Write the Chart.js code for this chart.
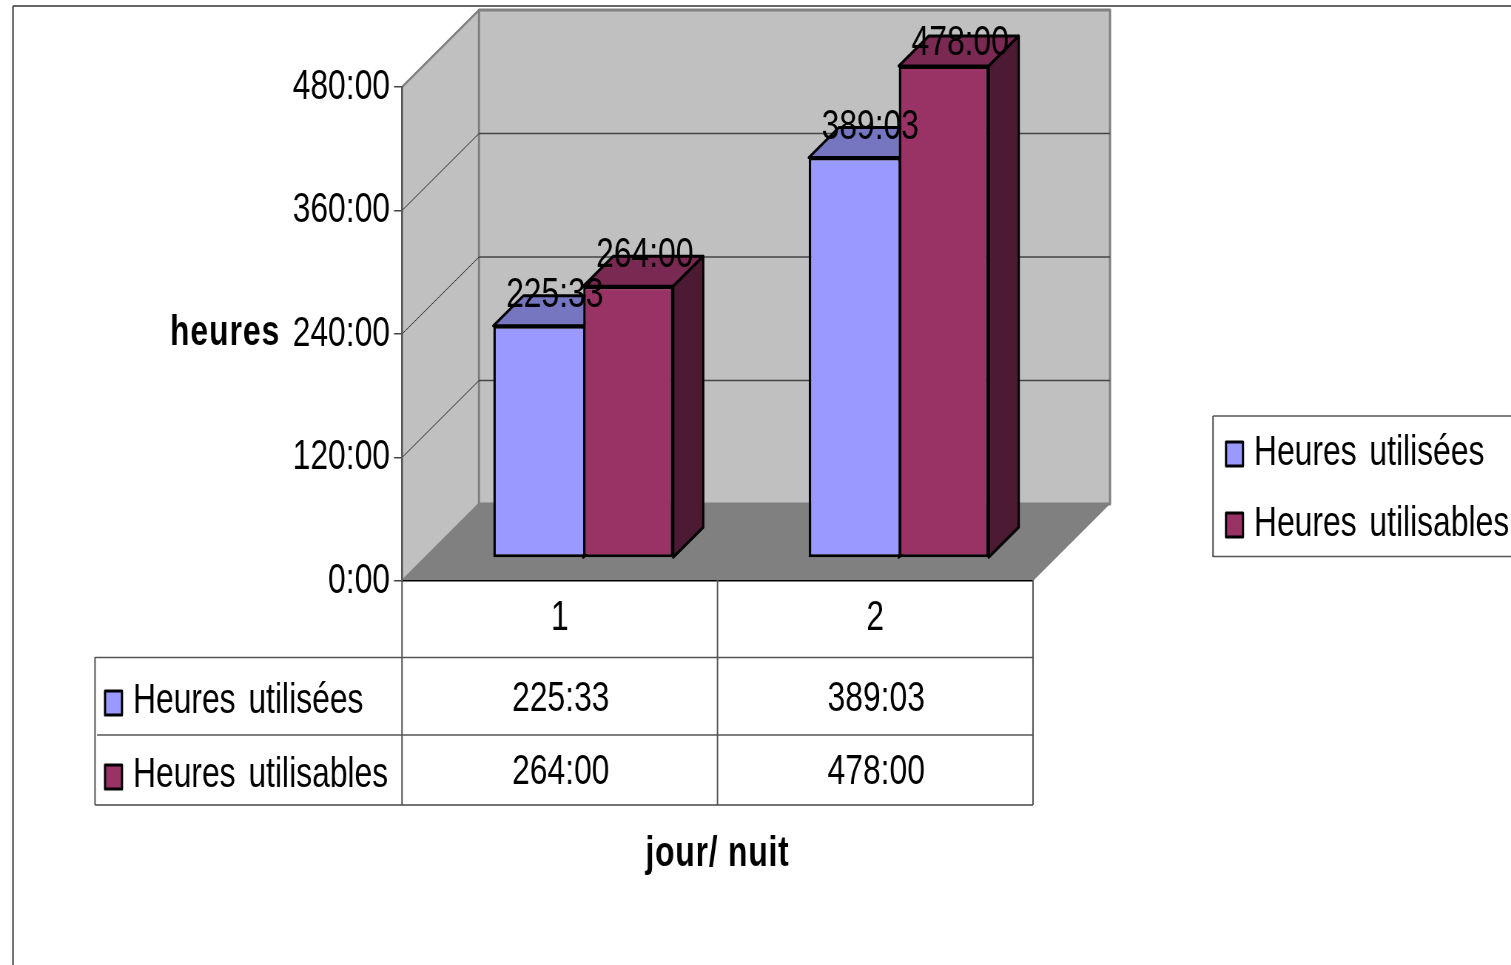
<!DOCTYPE html>
<html lang="fr">
<head>
<meta charset="utf-8">
<title>Heures utilisées / utilisables</title>
<script src="https://cdn.jsdelivr.net/npm/chart.js@4/dist/chart.umd.min.js"></script>
<style>
    html, body { margin: 0; padding: 0; background: #fff; overflow: hidden; width: 1511px; height: 965px; }
    #chart { position: absolute; left: 0; top: 0; transform-origin: 0 0; transform: scaleX(0.74); }
</style>
</head>
<body>
<canvas id="chart"></canvas>
<script>
// Data (hours)
const categories = ['1', '2'];
const heuresUtilisees = [225.55, 389.05];
const heuresUtilisables = [264, 478];
const labelsUtilisees = ['225:33', '389:03'];
const labelsUtilisables = ['264:00', '478:00'];
const yTickLabels = ['0:00', '120:00', '240:00', '360:00', '480:00'];
const seriesNames = ['Heures utilisées', 'Heures utilisables'];
const yTitle = 'heures';
const xTitle = 'jour/ nuit';

// The source image is squeezed horizontally, so the whole canvas is drawn wide
// and narrowed by the css transform. X() turns picture pixels into canvas units.
const squeeze = 0.74;
const X = px => px / squeeze;

const FONT = '"Liberation Sans", Arial, sans-serif';
const blue = '#9999ff';
const blueTop = '#7575c0';
const maroon = '#993366';
const maroonTop = '#7a2952';
const maroonSide = '#4d1a33';
const wallDepth = 77;
const barShift = 23;
const barShiftX = 23.5;
const barDepth = 30;

const canvas = document.getElementById('chart');
canvas.width = Math.round(X(1511));
canvas.height = 965;

function poly(ctx, pts, fill, stroke, width) {
    ctx.beginPath();
    pts.forEach((p, i) => i ? ctx.lineTo(p[0], p[1]) : ctx.moveTo(p[0], p[1]));
    ctx.closePath();
    if (fill) { ctx.fillStyle = fill; ctx.fill(); }
    if (stroke) { ctx.strokeStyle = stroke; ctx.lineWidth = width; ctx.lineJoin = 'round'; ctx.stroke(); }
}

function line(ctx, x1, y1, x2, y2, color, width) {
    ctx.beginPath();
    ctx.moveTo(x1, y1);
    ctx.lineTo(x2, y2);
    ctx.strokeStyle = color;
    ctx.lineWidth = width;
    ctx.stroke();
}

function text(ctx, str, x, y, font, align, wordGap, letterGap) {
    ctx.font = font;
    ctx.fillStyle = '#000';
    ctx.textAlign = align || 'left';
    ctx.textBaseline = 'alphabetic';
    ctx.wordSpacing = (wordGap || 0) + 'px';
    ctx.letterSpacing = (letterGap || 0) + 'px';
    ctx.fillText(str, x, y);
    ctx.wordSpacing = '0px';
    ctx.letterSpacing = '0px';
}

function swatch(ctx, x, y, color) {
    poly(ctx, [[X(x), y], [X(x + 17), y], [X(x + 17), y + 24], [X(x), y + 24]], color, '#000', 3);
}

// Walls, floor and the grid lines running around them
const walls = {
    id: 'walls',
    beforeDraw(chart) {
        const ctx = chart.ctx;
        const a = chart.chartArea;
        const d = X(wallDepth);
        ctx.save();
        line(ctx, X(13), 6, canvas.width, 6, '#333', 1.6);
        line(ctx, X(13), 6, X(13), 965, '#333', 2);
        poly(ctx, [[a.left, a.bottom], [a.left + d, a.bottom - wallDepth], [a.left + d, a.top - wallDepth], [a.left, a.top]], '#c0c0c0', '#808080', 2.4);
        poly(ctx, [[a.left + d, a.top - wallDepth], [a.right + d, a.top - wallDepth], [a.right + d, a.bottom - wallDepth], [a.left + d, a.bottom - wallDepth]], '#c0c0c0', '#808080', 3);
        poly(ctx, [[a.left, a.bottom], [a.right, a.bottom], [a.right + d, a.bottom - wallDepth], [a.left + d, a.bottom - wallDepth]], '#808080');
        chart.scales.y.ticks.forEach(t => {
            if (t.value === 0 || t.value === 480) return;
            const y = chart.scales.y.getPixelForValue(t.value);
            line(ctx, a.left, y, a.left + d, y - wallDepth, '#333', 1);
            line(ctx, a.left + d, y - wallDepth, a.right + d, y - wallDepth, '#444', 1.3);
        });
        ctx.restore();
    }
};

function drawFaces(ctx, meta, topColor, sideColor) {
    const d = X(barDepth);
    meta.data.forEach(bar => {
        const l = bar.x - bar.width / 2;
        const r = bar.x + bar.width / 2;
        poly(ctx, [[l, bar.y], [r, bar.y], [r + d, bar.y - barDepth], [l + d, bar.y - barDepth]], topColor, '#000', 3);
        poly(ctx, [[r, bar.y], [r + d, bar.y - barDepth], [r + d, bar.base - barDepth], [r, bar.base]], sideColor, '#000', 3);
    });
}

// Shifts the bars onto the floor and adds their top and side faces.
// Chart.js paints the last dataset first, so the blue faces go in before anything.
const bars3d = {
    id: 'bars3d',
    beforeDatasetsDraw(chart) {
        const ctx = chart.ctx;
        ctx.save();
        ctx.translate(X(barShiftX), -barShift);
        drawFaces(ctx, chart.getDatasetMeta(0), blueTop, blueTop);
        ctx.restore();
    },
    beforeDatasetDraw(chart, args) {
        const ctx = chart.ctx;
        ctx.save();
        ctx.translate(X(barShiftX), -barShift);
        if (args.index === 1) drawFaces(ctx, args.meta, maroonTop, maroonSide);
    },
    afterDatasetDraw(chart) {
        chart.ctx.restore();
    },
    afterDatasetsDraw(chart) {
        // Value labels sit above the bars, on top of everything
        const ctx = chart.ctx;
        [labelsUtilisees, labelsUtilisables].forEach((labels, i) => {
            chart.getDatasetMeta(i).data.forEach((bar, j) => {
                const y = Math.max(bar.y - barShift - 19, 55);
                text(ctx, labels[j], bar.x + X(barShift + 17), y, '43px ' + FONT, 'center');
            });
        });
    }
};

// Data table under the chart, legend box and axis titles
const extras = {
    id: 'extras',
    afterDraw(chart) {
        const ctx = chart.ctx;
        const xs = chart.scales.x;
        const mid = (xs.left + xs.right) / 2;
        const lineCol = '#555';
        const gap = X(4);
        ctx.save();

        line(ctx, X(95), 657.5, xs.right, 657.5, lineCol, 1.5);
        line(ctx, X(97), 735, xs.right, 735, lineCol, 1.5);
        line(ctx, X(95), 805, xs.right, 805, '#444', 1.5);
        line(ctx, X(95), 657, X(95), 805, lineCol, 2);
        line(ctx, xs.left, 580, xs.left, 805, lineCol, 2);
        line(ctx, mid, 580, mid, 805, lineCol, 2);
        line(ctx, xs.right, 580, xs.right, 805, lineCol, 2);

        swatch(ctx, 105, 691, blue);
        swatch(ctx, 105, 765, maroon);
        text(ctx, seriesNames[0], X(133), 713, '43px ' + FONT, 'left', gap);
        text(ctx, seriesNames[1], X(133), 787, '43px ' + FONT, 'left', gap);

        categories.forEach((c, i) => {
            const cx = xs.getPixelForTick(i);
            text(ctx, labelsUtilisees[i], cx + X(1), 711, '43px ' + FONT, 'center');
            text(ctx, labelsUtilisables[i], cx + X(1), 784, '43px ' + FONT, 'center');
        });

        // Legend, its right edge runs off the picture
        line(ctx, X(1213), 416, canvas.width, 416, lineCol, 1.5);
        line(ctx, X(1213), 556.5, canvas.width, 556.5, lineCol, 1.5);
        line(ctx, X(1213), 416, X(1213), 557, lineCol, 2);
        swatch(ctx, 1226, 442, blue);
        swatch(ctx, 1226, 513, maroon);
        text(ctx, seriesNames[0], X(1254), 465, '43px ' + FONT, 'left', gap);
        text(ctx, seriesNames[1], X(1254), 536, '43px ' + FONT, 'left', gap);

        text(ctx, yTitle, X(170), 345, 'bold 43px ' + FONT, 'left', 0, X(1));
        text(ctx, xTitle, mid, 866, 'bold 43px ' + FONT, 'center', 0, X(0.8));
        ctx.restore();
    }
};

new Chart(canvas, {
    type: 'bar',
    data: {
        labels: categories,
        datasets: [
            {
                label: seriesNames[0],
                data: heuresUtilisees,
                backgroundColor: blue,
                // the neighbouring bar supplies the shared edge
                borderWidth: { left: 3.4, right: 0, top: 3, bottom: 3 }
            },
            { label: seriesNames[1], data: heuresUtilisables, backgroundColor: maroon }
        ]
    },
    options: {
        responsive: false,
        animation: false,
        layout: { padding: { left: 0, top: 87, right: canvas.width - X(1033), bottom: 0 } },
        datasets: {
            bar: {
                categoryPercentage: 0.5705,
                barPercentage: 1,
                borderColor: '#000',
                borderWidth: { left: 3.4, right: 3.4, top: 3, bottom: 3 },
                borderSkipped: false,
                clip: false
            }
        },
        plugins: { legend: { display: false }, title: { display: false }, tooltip: { enabled: false } },
        scales: {
            x: {
                afterFit: s => { s.height = 965 - 581; },
                grid: { display: false },
                border: { color: '#000', width: 1.6 },
                ticks: { color: '#000', padding: 3, font: { family: FONT, size: 43 } }
            },
            y: {
                min: 0,
                max: 480,
                afterFit: s => { s.width = X(402); },
                grid: { drawOnChartArea: false, color: '#444', tickLength: X(8), lineWidth: 1.5 },
                border: { color: '#555', width: 2.4 },
                ticks: {
                    stepSize: 120,
                    autoSkip: false,
                    color: '#000',
                    padding: X(4),
                    font: { family: FONT, size: 43 },
                    callback: (v, i) => yTickLabels[i]
                }
            }
        }
    },
    plugins: [walls, bars3d, extras]
});
</script>
</body>
</html>
